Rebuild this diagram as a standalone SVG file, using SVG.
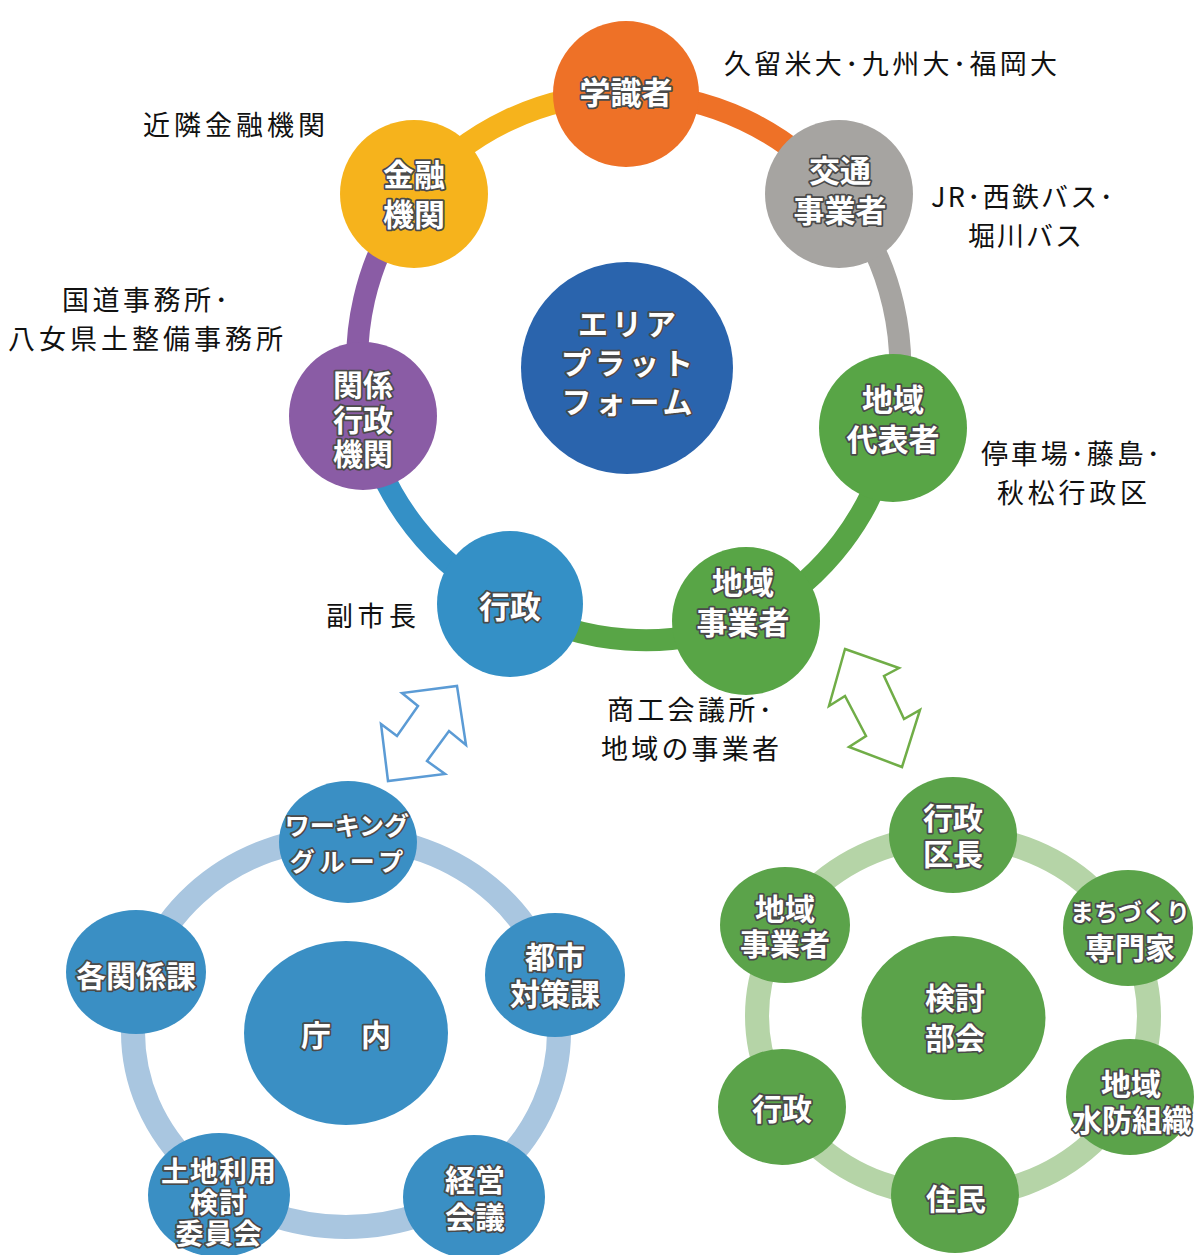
<svg xmlns="http://www.w3.org/2000/svg" width="1197" height="1255" viewBox="0 0 1197 1255">
<style>
.lbl{font-family:"Noto Sans CJK JP","Noto Sans",sans-serif;font-size:27px;fill:#111;dominant-baseline:central;}
.nt{font-family:"Noto Sans CJK JP","Noto Sans",sans-serif;font-weight:700;fill:#fff;stroke:#4a4a4a;stroke-width:3.5px;paint-order:stroke fill;stroke-linejoin:round;text-anchor:middle;dominant-baseline:central;font-size:30px;}
.t31{font-size:31px;}
.t28{font-size:28px;}
.t25{font-size:25px;}
.arc{fill:none;stroke-width:22;}
.arrow{fill:#fff;stroke-width:2.5;stroke-linejoin:miter;}
</style>
<rect width="1197" height="1255" fill="#fff"/>
<g id="connectors">
  <path class="arc" stroke="#EE7127" d="M626,94 A272,272 0 0 1 839,194"/>
  <path class="arc" stroke="#A6A4A1" d="M839,194 A272,272 0 0 1 893,428"/>
  <path class="arc" stroke="#58A546" d="M893,428 A272,272 0 0 1 746,621"/>
  <path class="arc" stroke="#58A546" d="M746,621 A272,272 0 0 1 510,604"/>
  <path class="arc" stroke="#3490C6" d="M510,604 A272,272 0 0 1 363,416"/>
  <path class="arc" stroke="#8A5CA5" d="M363,416 A272,272 0 0 1 414,194"/>
  <path class="arc" stroke="#F6B31C" d="M414,194 A272,272 0 0 1 626,94"/>
  <ellipse cx="346" cy="1032" rx="213" ry="195" fill="none" stroke="#A9C6E0" stroke-width="24"/>
  <ellipse cx="953" cy="1016" rx="196" ry="180" fill="none" stroke="#B5D4A7" stroke-width="24"/>
  <polygon class="arrow" stroke="#5B9BD5" points="457,686 466,745 449,731 427,761 445,774 388,781 381,724 397,736 418,706 402,693"/>
  <polygon class="arrow" stroke="#70AD47" points="845,649 899,668 884,676 904,719 920,710 902,767 849,747 866,736 845,696 829,706"/>
</g>

<g id="labels">
  <text class="lbl" x="143" y="123" textLength="182" lengthAdjust="spacing">近隣金融機関</text>
  <text class="lbl" x="724" y="62" textLength="333" lengthAdjust="spacing">久留米大･九州大･福岡大</text>
  <text class="lbl" x="931" y="195" textLength="182" lengthAdjust="spacing">JR･西鉄バス･</text>
  <text class="lbl" x="968" y="234" textLength="114" lengthAdjust="spacing">堀川バス</text>
  <text class="lbl" x="62" y="298" textLength="166" lengthAdjust="spacing">国道事務所･</text>
  <text class="lbl" x="8" y="337" textLength="275" lengthAdjust="spacing">八女県土整備事務所</text>
  <text class="lbl" x="981" y="452" textLength="179" lengthAdjust="spacing">停車場･藤島･</text>
  <text class="lbl" x="997" y="491" textLength="150" lengthAdjust="spacing">秋松行政区</text>
  <text class="lbl" x="326" y="614" textLength="90" lengthAdjust="spacing">副市長</text>
  <text class="lbl" x="607" y="708" textLength="165" lengthAdjust="spacing">商工会議所･</text>
  <text class="lbl" x="601" y="747" textLength="178" lengthAdjust="spacing">地域の事業者</text>
</g>

<g id="node-platform">
  <circle cx="627" cy="368" r="106" fill="#2A64AD"/>
  <text class="nt" letter-spacing="4"><tspan x="629" y="322">エリア</tspan><tspan x="629" y="361">プラット</tspan><tspan x="629" y="400">フォーム</tspan></text>
</g>
<g id="node-gakushiki">
  <circle cx="626" cy="94" r="73" fill="#EE7127"/>
  <text class="nt t31" x="626" y="90">学識者</text>
</g>
<g id="node-koutsuu">
  <circle cx="839" cy="194" r="74" fill="#A6A4A1"/>
  <text class="nt t31"><tspan x="840" y="168">交通</tspan><tspan x="840" y="208">事業者</tspan></text>
</g>
<g id="node-chiiki-daihyou">
  <circle cx="893" cy="428" r="74" fill="#58A546"/>
  <text class="nt t31"><tspan x="893" y="397">地域</tspan><tspan x="893" y="437">代表者</tspan></text>
</g>
<g id="node-chiiki-jigyou">
  <circle cx="746" cy="621" r="74" fill="#58A546"/>
  <text class="nt t31"><tspan x="743" y="580">地域</tspan><tspan x="743" y="620">事業者</tspan></text>
</g>
<g id="node-gyousei">
  <circle cx="510" cy="604" r="73" fill="#3490C6"/>
  <text class="nt t31" x="510" y="604">行政</text>
</g>
<g id="node-kankei">
  <circle cx="363" cy="416" r="74" fill="#8A5CA5"/>
  <text class="nt"><tspan x="363" y="383">関係</tspan><tspan x="363" y="418">行政</tspan><tspan x="363" y="452">機関</tspan></text>
</g>
<g id="node-kinyuu">
  <circle cx="414" cy="194" r="74" fill="#F6B31C"/>
  <text class="nt t31"><tspan x="414" y="172">金融</tspan><tspan x="414" y="212">機関</tspan></text>
</g>

<g id="node-chounai">
  <ellipse cx="346" cy="1033" rx="102" ry="92" fill="#3A8FC4"/>
  <text class="nt" x="346" y="1033">庁　内</text>
</g>
<g id="node-working">
  <ellipse cx="348" cy="842" rx="69" ry="61" fill="#3A8FC4"/>
  <text class="nt t25"><tspan x="347" y="824">ワーキング</tspan><tspan x="349" y="860" letter-spacing="5">グループ</tspan></text>
</g>
<g id="node-kakukankei">
  <ellipse cx="136" cy="972" rx="70" ry="62" fill="#3A8FC4"/>
  <text class="nt" x="136" y="974">各関係課</text>
</g>
<g id="node-toshi">
  <ellipse cx="555" cy="975" rx="70" ry="62" fill="#3A8FC4"/>
  <text class="nt"><tspan x="555" y="955">都市</tspan><tspan x="555" y="992">対策課</tspan></text>
</g>
<g id="node-tochi">
  <ellipse cx="219" cy="1195" rx="71" ry="62" fill="#3A8FC4"/>
  <text class="nt t28" letter-spacing="1"><tspan x="219" y="1170">土地利用</tspan><tspan x="219" y="1201">検討</tspan><tspan x="219" y="1232">委員会</tspan></text>
</g>
<g id="node-keiei">
  <ellipse cx="474" cy="1197" rx="71" ry="62" fill="#3A8FC4"/>
  <text class="nt"><tspan x="475" y="1178">経営</tspan><tspan x="475" y="1215">会議</tspan></text>
</g>

<g id="node-kentoubukai">
  <ellipse cx="953.5" cy="1018" rx="92" ry="82" fill="#5BA34A"/>
  <text class="nt"><tspan x="955" y="996">検討</tspan><tspan x="955" y="1036">部会</tspan></text>
</g>
<g id="node-kuchou">
  <ellipse cx="953" cy="835" rx="64" ry="58" fill="#5BA34A"/>
  <text class="nt"><tspan x="953" y="816">行政</tspan><tspan x="953" y="852">区長</tspan></text>
</g>
<g id="node-machizukuri">
  <ellipse cx="1128" cy="928" rx="65" ry="58" fill="#5BA34A"/>
  <text class="nt"><tspan x="1130" y="910" font-size="24">まちづくり</tspan><tspan x="1130" y="946">専門家</tspan></text>
</g>
<g id="node-chiiki-jigyou2">
  <ellipse cx="785" cy="925" rx="65" ry="58" fill="#5BA34A"/>
  <text class="nt"><tspan x="785" y="907">地域</tspan><tspan x="785" y="942">事業者</tspan></text>
</g>
<g id="node-gyousei2">
  <ellipse cx="782" cy="1107" rx="64" ry="58" fill="#5BA34A"/>
  <text class="nt" x="782" y="1107">行政</text>
</g>
<g id="node-suibou">
  <ellipse cx="1130" cy="1097" rx="64" ry="58" fill="#5BA34A"/>
  <text class="nt"><tspan x="1131" y="1082">地域</tspan><tspan x="1132" y="1118">水防組織</tspan></text>
</g>
<g id="node-juumin">
  <ellipse cx="955" cy="1195" rx="64" ry="58" fill="#5BA34A"/>
  <text class="nt" x="956" y="1197">住民</text>
</g>
</svg>
